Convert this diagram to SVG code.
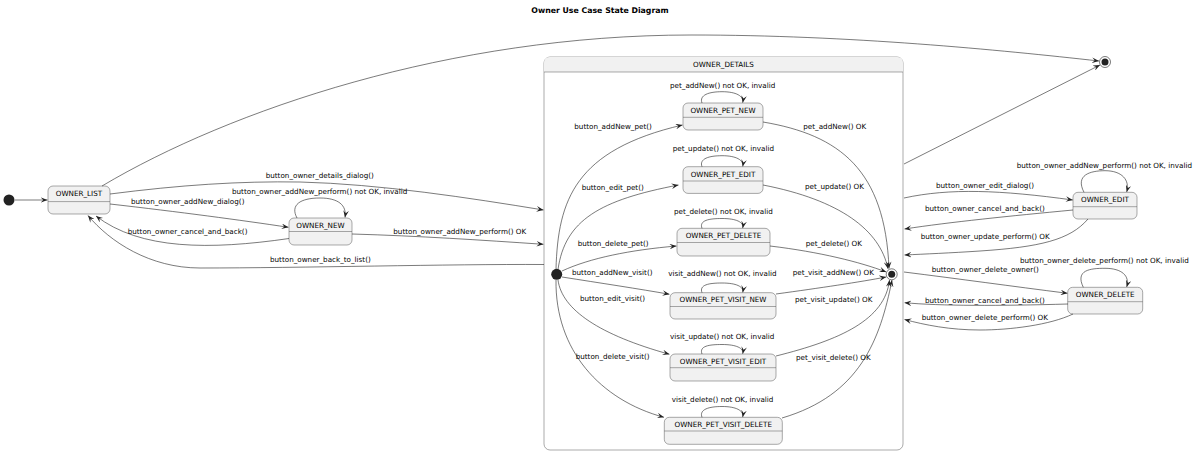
<svg xmlns="http://www.w3.org/2000/svg" width="1200" height="453" viewBox="0 0 1200 453">
<style>
text{font-family:"DejaVu Sans","Liberation Sans",sans-serif;font-size:7.2px;fill:#000}
.title{font-weight:bold;font-size:7.8px}
.st{fill:#F1F1F1;stroke:#555;stroke-width:0.5}
.dv{stroke:#555;stroke-width:0.5}
.nm{text-anchor:middle}
.e{fill:none;stroke:#222;stroke-width:0.6;marker-end:url(#ah)}
.dot{fill:#222}
.ring{fill:none;stroke:#222;stroke-width:0.6}
</style>
<defs>
<marker id="ah" viewBox="0 0 10 8" refX="10" refY="4" markerWidth="7" markerHeight="5.6" markerUnits="userSpaceOnUse" orient="auto">
<path d="M0,0 L10,4 L0,8 L4,4 Z" fill="#222"/>
</marker>
</defs>
<rect width="1200" height="453" fill="#fff"/>
<text class="title nm" x="600" y="13">Owner Use Case State Diagram</text>

<g id="OWNER_DETAILS">
<rect x="544" y="57" width="359" height="393" rx="6" fill="#fff" stroke="#555" stroke-width="0.5"/>
<path d="M544,72 L544,63 Q544,57 550,57 L897,57 Q903,57 903,63 L903,72 Z" fill="#F1F1F1"/>
<line x1="544" y1="72" x2="903" y2="72" class="dv"/>
<text class="nm" x="723.5" y="67">OWNER_DETAILS</text>
</g>

<g id="start"><circle class="dot" cx="9" cy="200" r="5.5"/></g>
<g id="end"><circle class="ring" cx="1105" cy="62" r="5.5"/><circle class="dot" cx="1105" cy="62" r="3.5"/></g>

<g id="OWNER_LIST"><rect class="st" x="48" y="186" width="62" height="28" rx="5"/><line class="dv" x1="48" y1="201.6" x2="110" y2="201.6"/><text class="nm" x="79" y="196.4">OWNER_LIST</text></g>
<g id="OWNER_NEW"><rect class="st" x="289" y="218" width="63" height="27" rx="5"/><line class="dv" x1="289" y1="231.5" x2="352" y2="231.5"/><text class="nm" x="320.5" y="227.5">OWNER_NEW</text></g>

<g id="details_start"><circle class="dot" cx="556.7" cy="274.3" r="5.5"/></g>
<g id="details_end"><circle class="ring" cx="891.7" cy="274.3" r="5.5"/><circle class="dot" cx="891.7" cy="274.3" r="3.5"/></g>

<g id="OWNER_PET_NEW"><rect class="st" x="683" y="103" width="80" height="27" rx="5"/><line class="dv" x1="683" y1="117.3" x2="763" y2="117.3"/><text class="nm" x="723" y="112.7">OWNER_PET_NEW</text></g>
<g id="OWNER_PET_EDIT"><rect class="st" x="683" y="166.7" width="80" height="26.7" rx="5"/><line class="dv" x1="683" y1="181" x2="763" y2="181"/><text class="nm" x="723" y="176.5">OWNER_PET_EDIT</text></g>
<g id="OWNER_PET_DELETE"><rect class="st" x="677" y="228.3" width="93" height="27.7" rx="5"/><line class="dv" x1="677" y1="242.5" x2="770" y2="242.5"/><text class="nm" x="723.5" y="238">OWNER_PET_DELETE</text></g>
<g id="OWNER_PET_VISIT_NEW"><rect class="st" x="670" y="292.7" width="106" height="26.3" rx="5"/><line class="dv" x1="670" y1="306.5" x2="776" y2="306.5"/><text class="nm" x="723" y="302">OWNER_PET_VISIT_NEW</text></g>
<g id="OWNER_PET_VISIT_EDIT"><rect class="st" x="670" y="354" width="106" height="27" rx="5"/><line class="dv" x1="670" y1="367.7" x2="776" y2="367.7"/><text class="nm" x="723" y="363.5">OWNER_PET_VISIT_EDIT</text></g>
<g id="OWNER_PET_VISIT_DELETE"><rect class="st" x="664.3" y="417.3" width="118" height="27" rx="5"/><line class="dv" x1="664.3" y1="431" x2="782.3" y2="431"/><text class="nm" x="723.3" y="426.8">OWNER_PET_VISIT_DELETE</text></g>

<g id="OWNER_EDIT"><rect class="st" x="1073" y="192.3" width="64" height="26.7" rx="5"/><line class="dv" x1="1073" y1="206.7" x2="1137" y2="206.7"/><text class="nm" x="1105" y="202">OWNER_EDIT</text></g>
<g id="OWNER_DELETE"><rect class="st" x="1067.7" y="287.3" width="75" height="26.7" rx="5"/><line class="dv" x1="1067.7" y1="301.7" x2="1142.7" y2="301.7"/><text class="nm" x="1105.2" y="297">OWNER_DELETE</text></g>

<g id="connectors">
<path class="e" d="M15,200 L47.5,200"/>
<path class="e" d="M102,186 C230,110 450,35 691,35 C850,35 1000,50 1099,61"/>
<path class="e" d="M904,164 L1100,65"/>
<path class="e" d="M110,194 C180,185 240,181 300,182 C380,184 470,198 543.5,210"/>
<path class="e" d="M110,204 C180,212 240,220 288.5,227.3"/>
<path class="e" d="M289,238.5 C210,250 140,250 96,216"/>
<path class="e" d="M544,264.5 C450,264 300,268 200,268 C150,268 110,242 88,215.5"/>
<path class="e" d="M297,218 C290,205 300,198 320,198 C338,198 347,205 345,217.5"/>
<path class="e" d="M352,234 C420,236 480,240 543.5,244.3"/>

<path class="e" d="M556,269 C558,200 575,150 682.5,125"/>
<path class="e" d="M558,269.5 C565,220 600,200 678.5,185"/>
<path class="e" d="M562,271 C590,258 630,250 676.5,246"/>
<path class="e" d="M562,277 C600,283 640,289 669.5,294.3"/>
<path class="e" d="M558,280 C562,310 600,335 669.5,354.3"/>
<path class="e" d="M556,280 C555,350 600,400 664,417.3"/>

<path class="e" d="M763,122 C840,135 885,170 889,268.5"/>
<path class="e" d="M763,185 C840,200 880,230 888,268.8"/>
<path class="e" d="M770,246 C820,252 860,262 886.2,272"/>
<path class="e" d="M776,294 C820,288 860,282 886.2,277"/>
<path class="e" d="M776,356 C840,340 885,320 889.5,280"/>
<path class="e" d="M782,418 C860,395 880,340 892,280"/>

<path class="e" d="M702,103 C699,95 709,91.7 722,91.7 C736,91.7 744,96 742.7,102.7"/>
<path class="e" d="M702,166.7 C699,158.7 709,155.7 722,155.7 C736,155.7 744,160 742.7,166.5"/>
<path class="e" d="M702,228.3 C699,220.3 709,218.5 722,218.5 C736,218.5 744,222 742.7,228.1"/>
<path class="e" d="M702,292.7 C699,284.7 709,283 722,283 C736,283 744,286.5 742.7,292.5"/>
<path class="e" d="M702,354 C699,346 709,344.5 722,344.5 C736,344.5 744,348 742.7,353.8"/>
<path class="e" d="M702,417.3 C699,409.3 709,406.5 722,406.5 C736,406.5 744,410.5 742.7,417.1"/>

<path class="e" d="M904,198 C950,188 1000,190 1072.8,200"/>
<path class="e" d="M1073,210 C1010,216 950,222 904.5,229"/>
<path class="e" d="M1088,219 C1070,240 1040,247 980,251 C950,253 925,254 904.5,255"/>
<path class="e" d="M1084,192.3 C1075,175 1090,170.7 1105,170.7 C1122,170.7 1130,180 1126.7,192"/>
<path class="e" d="M904,272 C960,279 1010,286 1067.5,293.3"/>
<path class="e" d="M1068,304 C1000,306 940,306 904.5,302.7"/>
<path class="e" d="M1073,314 C1050,325 1010,330 980,330 C950,330 925,325 904.5,319.5"/>
<path class="e" d="M1083.3,287.3 C1075,270 1090,268.3 1105,268.3 C1122,268.3 1130,276 1126.7,287"/>
</g>

<g id="labels">
<text x="265.7" y="178">button_owner_details_dialog()</text>
<text x="232" y="193.5">button_owner_addNew_perform() not OK, invalid</text>
<text x="131" y="204">button_owner_addNew_dialog()</text>
<text x="127.7" y="233.5">button_owner_cancel_and_back()</text>
<text x="393.3" y="233.5">button_owner_addNew_perform() OK</text>
<text x="270" y="262">button_owner_back_to_list()</text>

<text x="670" y="88">pet_addNew() not OK, invalid</text>
<text x="574.3" y="129">button_addNew_pet()</text>
<text x="803.3" y="128.5">pet_addNew() OK</text>
<text x="672.7" y="151">pet_update() not OK, invalid</text>
<text x="581.7" y="190">button_edit_pet()</text>
<text x="805" y="189">pet_update() OK</text>
<text x="674" y="213.5">pet_delete() not OK, invalid</text>
<text x="577.7" y="245.5">button_delete_pet()</text>
<text x="805.7" y="245.5">pet_delete() OK</text>
<text x="572" y="275">button_addNew_visit()</text>
<text x="668.3" y="276">visit_addNew() not OK, invalid</text>
<text x="792.7" y="274.5">pet_visit_addNew() OK</text>
<text x="580" y="301">button_edit_visit()</text>
<text x="795" y="302">pet_visit_update() OK</text>
<text x="670" y="339">visit_update() not OK, invalid</text>
<text x="575.7" y="359">button_delete_visit()</text>
<text x="796" y="360">pet_visit_delete() OK</text>
<text x="671.7" y="402">visit_delete() not OK, invalid</text>

<text x="1016.7" y="167.5">button_owner_addNew_perform() not OK, invalid</text>
<text x="936" y="187.5">button_owner_edit_dialog()</text>
<text x="925" y="211">button_owner_cancel_and_back()</text>
<text x="920.7" y="239">button_owner_update_perform() OK</text>
<text x="1020" y="262.5">button_owner_delete_perform() not OK, invalid</text>
<text x="931.7" y="271.5">button_owner_delete_owner()</text>
<text x="925" y="302.5">button_owner_cancel_and_back()</text>
<text x="921.7" y="320">button_owner_delete_perform() OK</text>
</g>
</svg>
